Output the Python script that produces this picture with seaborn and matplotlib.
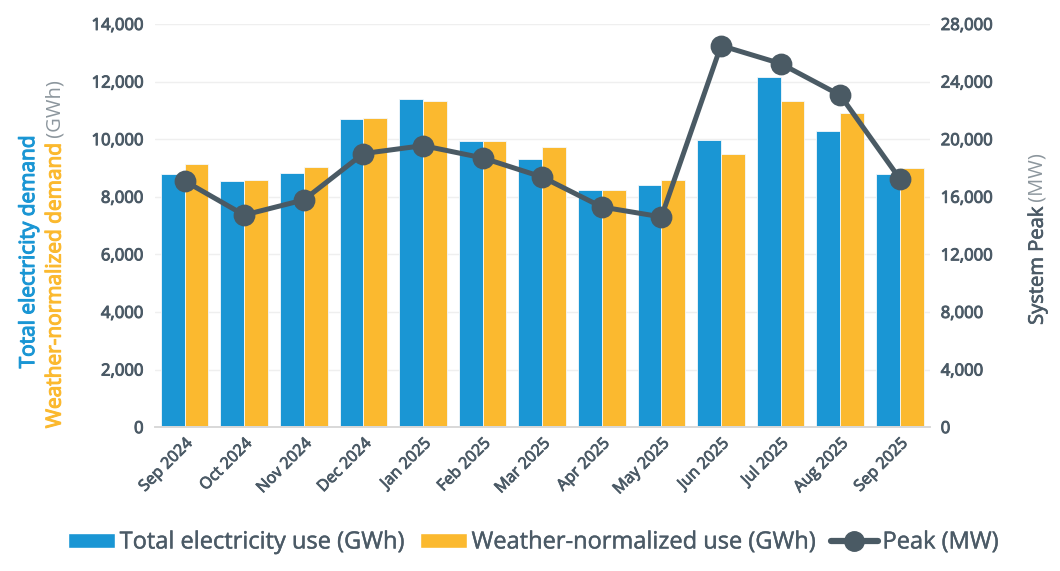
import pandas as pd
import matplotlib
matplotlib.use("Agg")
import matplotlib.pyplot as plt
import matplotlib.patheffects as pe
from matplotlib.patches import Patch
from matplotlib.lines import Line2D
from matplotlib.ticker import FuncFormatter, MultipleLocator
import seaborn as sns

# dados
meses = ['Sep 2024', 'Oct 2024', 'Nov 2024', 'Dec 2024', 'Jan 2025', 'Feb 2025', 'Mar 2025',
         'Apr 2025', 'May 2025', 'Jun 2025', 'Jul 2025', 'Aug 2025', 'Sep 2025']
uso_total = [8800, 8550, 8820, 10700, 11380, 9950, 9300, 8230, 8410, 9960, 12170, 10290, 8790]
uso_normalizado = [9130, 8580, 9050, 10730, 11310, 9930, 9730, 8250, 8570, 9470, 11320, 10910, 9000]
pico_mw = [17100, 14730, 15780, 19000, 19550, 18700, 17370, 15290, 14600, 26500, 25250, 23050, 17250]

nome_total = 'Total electricity use (GWh)'
nome_norm = 'Weather-normalized use (GWh)'
nome_pico = 'Peak (MW)'

AZUL = '#1a96d4'
LARANJA = '#fbb92f'
CINZA_LINHA = '#4a5a64'
CINZA_TEXTO = '#4b5a66'

sns.set_theme(style='white')
plt.rcParams['font.family'] = ['Open Sans', 'DejaVu Sans']


def semi(cor, w=0.5):
    # simula o peso "semibold" com um contorno fino da mesma cor
    return [pe.withStroke(linewidth=w, foreground=cor)]


df = pd.DataFrame({
    'mes': meses * 2,
    'valor': uso_total + uso_normalizado,
    'serie': [nome_total] * len(meses) + [nome_norm] * len(meses),
})
df_pico = pd.DataFrame({'mes': meses, 'pico': pico_mw})

fig = plt.figure(figsize=(10.6, 5.71), dpi=100)
ax = fig.add_axes([0.146, 0.252, 0.731, 0.706])

sns.barplot(data=df, x='mes', y='valor', hue='serie', palette=[AZUL, LARANJA],
            saturation=1, width=0.8, edgecolor='#f4f8fb', linewidth=0.6, ax=ax, legend=False)

ax2 = ax.twinx()
sns.pointplot(data=df_pico, x='mes', y='pico', color=CINZA_LINHA, markers='o',
              markersize=13, linewidth=3.6, ax=ax2)

fmt = FuncFormatter(lambda v, p: f'{int(v):,}')
ax.set_ylim(0, 14000)
ax.yaxis.set_major_locator(MultipleLocator(2000))
ax.yaxis.set_major_formatter(fmt)
ax2.set_ylim(0, 28000)
ax2.yaxis.set_major_locator(MultipleLocator(4000))
ax2.yaxis.set_major_formatter(fmt)
ax.set_xlim(-0.5, len(meses) - 0.5)
ax2.set_xlim(-0.5, len(meses) - 0.5)

ax.grid(axis='y', color='#efefef', linewidth=1)
ax.set_axisbelow(True)
for a in (ax, ax2):
    for s in ['top', 'left', 'right']:
        a.spines[s].set_visible(False)
    a.spines['bottom'].set_color('#d9d9d9')
    a.set_xlabel('')
    a.set_ylabel('')

ax.tick_params(axis='y', length=0, labelsize=12, labelcolor=CINZA_TEXTO, pad=8)
ax2.tick_params(axis='y', length=0, labelsize=12, labelcolor=CINZA_TEXTO, pad=8)
for lbl in ax.get_yticklabels() + ax2.get_yticklabels():
    lbl.set_path_effects(semi(CINZA_TEXTO, 0.7))

# rótulos do eixo x rotacionados, marcas entre categorias
ax.set_xticks(range(len(meses)))
ax.set_xticklabels(meses, rotation=45, ha='right', rotation_mode='anchor',
                   fontsize=11.5, color=CINZA_TEXTO)
for lbl in ax.get_xticklabels():
    lbl.set_path_effects(semi(CINZA_TEXTO, 0.6))
ax.tick_params(axis='x', which='major', length=0, pad=6)
ax.set_xticks([i + 0.5 for i in range(-1, len(meses))], minor=True)
ax.tick_params(axis='x', which='minor', length=6, color='#d9d9d9', width=1)
ax2.tick_params(axis='x', length=0)

# título do eixo esquerdo em duas cores
t1 = fig.text(0.027, 0.559, 'Total electricity demand', rotation=90, ha='center', va='center',
              fontsize=15, color=AZUL, path_effects=semi(AZUL, 0.8))
t2 = fig.text(0.052, 0.25, 'Weather-normalized demand', rotation=90, ha='center', va='bottom',
              fontsize=15, color=LARANJA, path_effects=semi(LARANJA, 0.8))
fig.canvas.draw()
ax.annotate(' (GWh)', xy=(0.5, 1), xycoords=t2, rotation=90, ha='center', va='bottom',
            fontsize=14.5, color='#8c969d', annotation_clip=False)

# título do eixo direito
t3 = fig.text(0.979, 0.431, 'System Peak', rotation=90, ha='center', va='bottom',
              fontsize=14.5, color=CINZA_TEXTO, path_effects=semi(CINZA_TEXTO, 0.5))
fig.canvas.draw()
ax2.annotate(' (MW)', xy=(0.5, 1), xycoords=t3, rotation=90, ha='center', va='bottom',
             fontsize=14.5, color='#8c969d', annotation_clip=False)

handles = [
    Patch(facecolor=AZUL, label=nome_total),
    Patch(facecolor=LARANJA, label=nome_norm),
    Line2D([0], [0], color=CINZA_LINHA, linewidth=4.5, marker='o', markersize=14, label=nome_pico),
]
leg = fig.legend(handles=handles, loc='center', bbox_to_anchor=(0.503, 0.05), ncol=3, frameon=False,
                 fontsize=17, handlelength=2.0, handleheight=0.6, handletextpad=0.2,
                 columnspacing=0.6, labelcolor=CINZA_TEXTO)
for txt in leg.get_texts():
    txt.set_path_effects(semi(CINZA_TEXTO, 0.3))

fig.savefig('out.png', dpi=100)
plt.close()
